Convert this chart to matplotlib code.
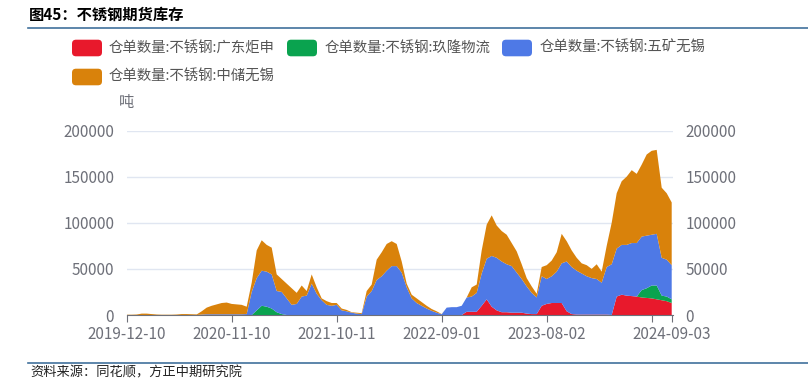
import numpy as np
import matplotlib
matplotlib.use("Agg")
import matplotlib.pyplot as plt
from matplotlib.patches import FancyBboxPatch
from matplotlib.lines import Line2D
from matplotlib.transforms import IdentityTransform

plt.rcParams['font.family'] = ['Noto Sans CJK SC', 'DejaVu Sans']

# 仓单数量 (吨), sampled along the trading-day axis 2019-12-10 .. 2024-09-03
red = [0, 0, 0, 0, 0, 0, 0, 0, 0, 0,
       0, 0, 0, 0, 0, 0, 0, 0, 0, 0,
       0, 0, 0, 0, 0, 0, 0, 0, 0, 0,
       0, 0, 0, 0, 0, 0, 0, 0, 0, 0,
       0, 0, 0, 0, 0, 0, 0, 0, 0, 0,
       0, 0, 0, 0, 0, 0, 0, 0, 0, 0,
       0, 0, 0, 0, 0, 0, 0, 0, 3500, 3500,
       3500, 10000, 17000, 9000, 5000, 3000, 3000, 2500, 2500, 2500,
       1500, 1000, 1000, 10000, 12000, 13000, 13000, 13000, 4000, 1000,
       500, 500, 500, 500, 500, 500, 500, 0, 20000, 22000,
       21000, 20500, 20000, 19000, 18500, 18000, 17000, 16000, 15000, 13000]

green = [0, 0, 0, 0, 0, 0, 0, 0, 0, 0,
         0, 0, 0, 0, 0, 0, 0, 0, 0, 0,
         0, 0, 0, 0, 0, 0, 5000, 10000, 9000, 7000,
         3000, 1000, 0, 0, 0, 0, 0, 0, 0, 0,
         0, 0, 0, 0, 0, 0, 0, 0, 0, 0,
         0, 0, 0, 0, 0, 0, 0, 0, 0, 0,
         0, 0, 0, 0, 0, 0, 0, 0, 0, 0,
         0, 0, 0, 0, 0, 0, 0, 0, 0, 0,
         0, 0, 0, 0, 0, 0, 0, 0, 0, 0,
         0, 0, 0, 0, 0, 0, 0, 0, 0, 0,
         0, 0, 0, 8000, 10500, 14000, 15000, 5000, 5000, 4000]

blue = [0, 0, 0, 0, 0, 0, 0, 0, 0, 0,
        0, 0, 0, 0, 0, 500, 800, 800, 800, 800,
        800, 800, 800, 800, 1000, 25000, 35000, 38000, 38000, 37000,
        23000, 24000, 18000, 11000, 12000, 20000, 21000, 34000, 23000, 16000,
        11000, 10000, 11000, 5000, 4000, 2500, 1500, 1000, 20000, 26000,
        38000, 42000, 48000, 53000, 53000, 46000, 30000, 18000, 13000, 10000,
        7000, 4500, 2500, 800, 8000, 8500, 8500, 10000, 15500, 16500,
        20500, 35000, 44000, 55000, 57000, 55000, 52000, 50500, 43500, 36500,
        29500, 23000, 18000, 32000, 27000, 29000, 34000, 43000, 54000, 51000,
        47500, 44500, 41500, 39500, 38500, 34500, 51500, 55000, 52000, 54000,
        55000, 57500, 58000, 58000, 57000, 55000, 56000, 41000, 40000, 37000]

orange = [300, 300, 500, 1500, 1500, 1000, 500, 300, 300, 300,
          500, 1000, 1000, 800, 600, 3500, 7200, 9200, 10700, 12200,
          12700, 11200, 10700, 10200, 8000, 10000, 30000, 33000, 29000, 29000,
          18000, 14000, 16000, 18000, 12000, 12000, 5000, 10000, 7000, 2000,
          4000, 3000, 2000, 2000, 1500, 500, 1000, 1000, 6000, 7000,
          22000, 26000, 29000, 27000, 24000, 12000, 4000, 4000, 5000, 4000,
          3000, 2000, 1500, 200, 0, 0, 0, 0, 0, 10000,
          9000, 25000, 37000, 44000, 35000, 33000, 32000, 25000, 23000, 16000,
          9000, 7000, 4000, 10000, 15000, 17000, 21000, 32000, 22000, 18000,
          14000, 11000, 12000, 10000, 16000, 12000, 23000, 45000, 60000, 69000,
          74000, 79000, 75000, 78000, 88000, 91000, 91000, 76000, 72000, 68000]

names = ['仓单数量:不锈钢:广东炬申', '仓单数量:不锈钢:玖隆物流',
         '仓单数量:不锈钢:五矿无锡', '仓单数量:不锈钢:中储无锡']
colors = ['#e8192c', '#0aa34f', '#4e79e6', '#d9820b']

tick_pos = [0, 21, 42, 63, 84, 105, 109]
tick_labels = ['2019-12-10', '2020-11-10', '2021-10-11', '2022-09-01',
               '2023-08-02', '', '2024-09-03']
y_ticks = [0, 50000, 100000, 150000, 200000]
y_labels = ['0', '50000', '100000', '150000', '200000']

W, H = 808, 392
fig = plt.figure(figsize=(W / 100, H / 100), dpi=100)
ax = fig.add_axes([126.7 / W, 1 - 315 / H, (673 - 126.7) / W, (315 - 130.5) / H])

x = np.arange(len(orange))
ax.stackplot(x, red, green, blue, orange, colors=colors, linewidth=0)

ax.set_xlim(0, 109.26)
ax.set_ylim(0, 200000)
ax.set_yticks(y_ticks, y_labels)
ax.set_xticks(tick_pos, tick_labels)
ax.yaxis.grid(True, color='#e0e6f1', lw=1)
ax.set_axisbelow(True)
for s in ['top', 'left', 'right']:
    ax.spines[s].set_visible(False)
ax.spines['bottom'].set_color('#6e7079')
ax.tick_params(axis='y', length=0, labelsize=11, labelcolor='#6e7079', pad=9)
ax.tick_params(axis='x', length=5, color='#6e7079', labelsize=11,
               labelcolor='#6e7079', pad=3)

ax2 = ax.twinx()
ax2.set_ylim(0, 200000)
ax2.set_yticks(y_ticks, y_labels)
for s in ['top', 'left', 'right', 'bottom']:
    ax2.spines[s].set_visible(False)
ax2.tick_params(axis='y', length=0, labelsize=11, labelcolor='#6e7079', pad=9)

fig.text(126 / W, 1 - 103 / H, '吨', ha='center', va='center',
         fontsize=11, color='#6e7079')

# legend drawn by hand, ECharts-style flow layout
leg = [(72, 48, 109), (287, 48, 325), (502, 48, 540), (72, 77, 109)]
for (px, py, tx), name, c in zip(leg, names, colors):
    fig.add_artist(FancyBboxPatch((px, H - py - 8.3), 30, 16.6,
                                  boxstyle='round,pad=0,rounding_size=4',
                                  transform=IdentityTransform(),
                                  fc=c, ec='none'))
    fig.text(tx / W, 1 - py / H, name, ha='left', va='center',
             fontsize=10.4, color='#555555')

# title and footer
fig.text(29 / W, 1 - 15 / H, '图45：不锈钢期货库存', ha='left', va='center',
         fontsize=11, fontweight='bold', color='#000000')
fig.add_artist(Line2D([28 / W, 1], [1 - 28 / H, 1 - 28 / H], color='#41719c', lw=1.2))
fig.add_artist(Line2D([28 / W, 1], [1 - 363 / H, 1 - 363 / H], color='#41719c', lw=1.2))
fig.text(30 / W, 1 - 373 / H, '资料来源：同花顺，方正中期研究院', ha='left', va='center',
         fontsize=9.5, color='#222222')

fig.savefig('out.png', dpi=100)
